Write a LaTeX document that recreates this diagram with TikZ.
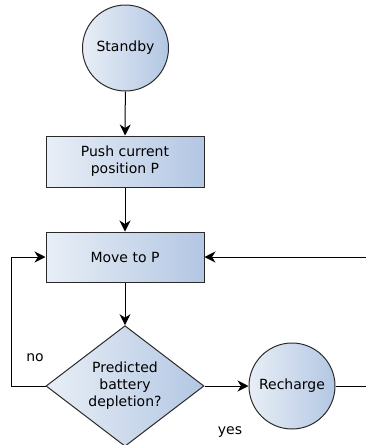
\documentclass[tikz,border=0pt]{standalone}
\usepackage{fontspec}
\setmainfont{DejaVu Sans}
\usetikzlibrary{shapes.geometric,arrows.meta}
\definecolor{gradlight}{HTML}{E8EEF6}
\definecolor{graddark}{HTML}{B3C7E3}
\definecolor{edge}{HTML}{2A2A2A}
\tikzset{
  every node/.style={font=\fontsize{14}{17}\selectfont, align=center, inner sep=0pt},
  shaded/.style={draw=edge, line width=1pt, left color=gradlight, right color=graddark},
  statecircle/.style={shaded, circle, minimum size=86pt},
  stepbox/.style={shaded, rectangle, minimum width=158pt, minimum height=50pt},
  decision/.style={shaded, diamond, minimum width=158pt, minimum height=116pt},
  flow/.style={draw=black, line width=1pt, -{Stealth[length=11pt,width=11pt,inset=3.5pt]}},
  plain/.style={draw=black, line width=1pt},
  lbl/.style={font=\fontsize{14}{17}\selectfont}
}
\begin{document}
\begin{tikzpicture}[x=1pt,y=-1pt]
  \useasboundingbox (0,0) rectangle (366,445);
  \node[statecircle] (standby) at (125.5,48) {Standby};
  \node[stepbox, minimum height=51pt] (push) at (125,161.5) {Push current\\position P};
  \node[stepbox] (move) at (125,257) {Move to P};
  \node[decision] (dec) at (125,386) {Predicted\\battery\\depletion?};
  \node[statecircle] (recharge) at (292,386) {Recharge};

  \coordinate (noturn) at (11,386);
  \coordinate (nocorner) at (11,257);
  \coordinate (rexit) at (366,386);
  \coordinate (rback) at (366,257);

  \draw[flow] (standby) -- (push);
  \draw[flow] (push) -- (move);
  \draw[flow] (move) -- (dec);
  \draw[flow] (dec) -- (recharge);
  \draw[plain] (recharge) -- (rexit);
  \draw[flow] (rback) -- (move);
  \draw[flow] (dec.west) -- (noturn) -- (nocorner) -- (move.west);

  \node[lbl] (nolbl) at (35,358) {no};
  \node[lbl] (yeslbl) at (230,432) {yes};
\end{tikzpicture}
\end{document}
